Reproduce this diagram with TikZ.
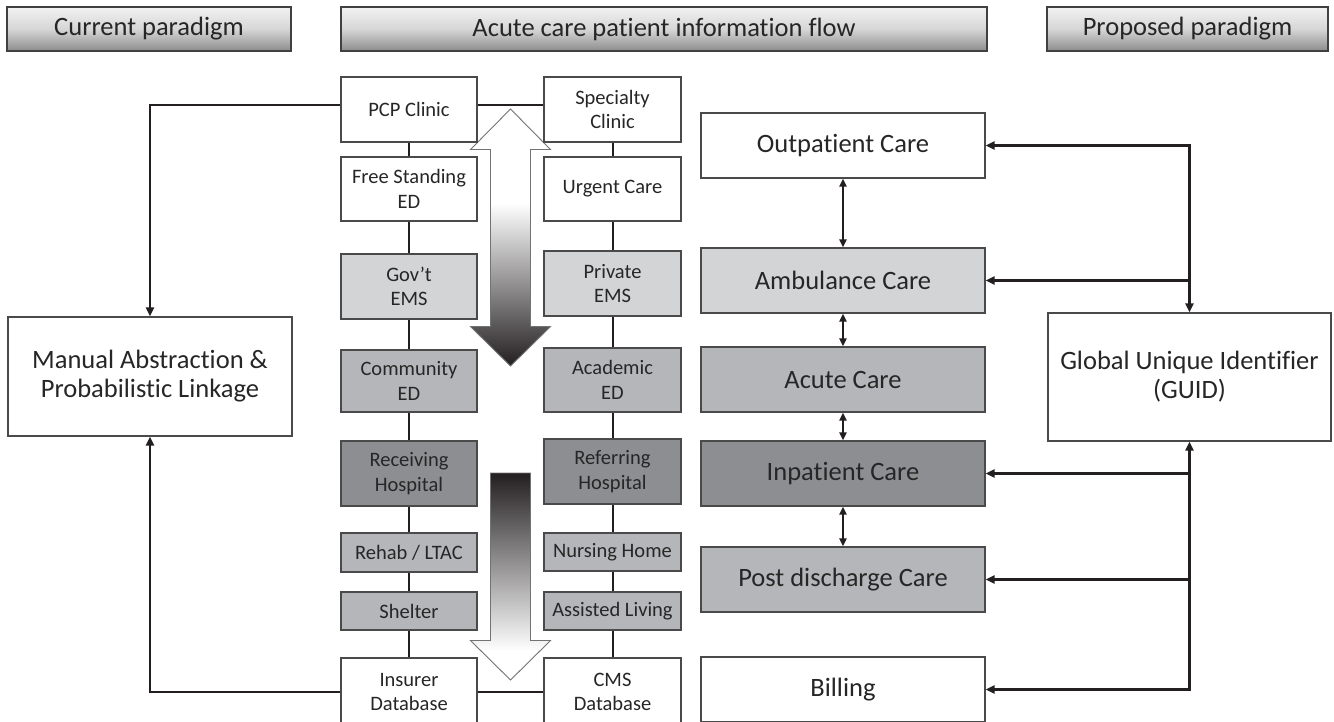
\documentclass[tikz,border=0pt]{standalone}
\usepackage{fontspec}
\setmainfont{Carlito}[Ligatures={NoCommon,NoContextual}]
\usetikzlibrary{arrows.meta}
\definecolor{bordc}{HTML}{4A4A4A}
\definecolor{txtc}{HTML}{262626}
\definecolor{linec}{HTML}{231F20}
\definecolor{lgray}{HTML}{D3D4D6}
\definecolor{mgray}{HTML}{B5B6B9}
\definecolor{dgray}{HTML}{8D8E91}
\definecolor{adark}{HTML}{231F20}
\definecolor{hA}{HTML}{F2F2F2}
\definecolor{hB}{HTML}{D6D6D6}
\definecolor{hC}{HTML}{8C8C8C}
\pgfdeclareverticalshading{hdrshade}{100bp}{color(0bp)=(hC); color(25bp)=(hC); color(50bp)=(hB); color(75bp)=(hA); color(100bp)=(hA)}
\pgfdeclareverticalshading{upfade}{100bp}{color(0bp)=(adark); color(25bp)=(adark); color(56.7bp)=(white); color(100bp)=(white)}
\pgfdeclareverticalshading{downfade}{100bp}{color(0bp)=(white); color(32bp)=(white); color(75bp)=(adark); color(100bp)=(adark)}
\begin{document}
\begin{tikzpicture}[x=1pt,y=-1pt,
  box/.style={rectangle,draw=bordc,line width=1.1pt,inner sep=0pt,align=center,text=txtc},
  hdrbox/.style={box,shading=hdrshade,draw=black!75,minimum height=44pt,font=\fontsize{26.5}{30}\selectfont},
  bigbox/.style={box,font=\fontsize{26.5}{29}\selectfont},
  rbox/.style={bigbox,minimum width=284pt,minimum height=65pt},
  lbox/.style={box,font=\fontsize{20.5}{24.5}\selectfont,minimum width=136pt},
  rcol/.style={box,font=\fontsize{20.5}{24.5}\selectfont,minimum width=137pt},
  fw/.style={fill=white},
  fl/.style={fill=lgray},
  fm/.style={fill=mgray},
  fd/.style={fill=dgray},
  midline/.style={draw=linec,line width=2pt},
  conn/.style={draw=linec,line width=2.3pt,-{Triangle[length=9pt,width=8pt]}},
  bconn/.style={draw=linec,line width=2.3pt,{Triangle[length=9pt,width=8pt]}-{Triangle[length=9pt,width=8pt]}},
  dbl/.style={draw=linec,line width=2pt,{Triangle[length=8pt,width=7pt]}-{Triangle[length=8pt,width=7pt]}},
  blockarrow/.style={draw=black!55,line width=0.9pt}
]
\useasboundingbox (0,0) rectangle (1334,721);
\fill[white] (0,0) rectangle (1334,721);

% headers
\node[hdrbox,minimum width=284pt] (hcur) at (149,29) {Current paradigm};
\node[hdrbox,minimum width=646pt] (hmid) at (664,29) {Acute care patient information flow};
\node[hdrbox,minimum width=281pt] (hprop) at (1187.5,29) {Proposed paradigm};

% block arrows
\path[blockarrow,shading=upfade] (510.5,109) -- (550.5,149.5) -- (530.5,149.5) -- (530.5,326.5) -- (550.5,326.5) -- (510.5,366) -- (470.5,326.5) -- (490.5,326.5) -- (490.5,149.5) -- (470.5,149.5) -- cycle;
\path[blockarrow,shading=downfade] (490.5,473) -- (530.5,473) -- (530.5,640.5) -- (550.5,640.5) -- (510.5,680) -- (470.5,640.5) -- (490.5,640.5) -- cycle;

% middle left column
\node[lbox,fw,minimum height=65pt] (pcp) at (409,109.5) {PCP Clinic};
\node[lbox,fw,minimum height=64pt] (frees) at (409,189) {Free Standing\\ED};
\node[lbox,fl,minimum height=65pt] (gov) at (409,286.5) {Gov’t\\EMS};
\node[lbox,fm,minimum height=62pt] (comm) at (409,381) {Community\\ED};
\node[lbox,fd,minimum height=65pt] (recv) at (409,473.5) {Receiving\\Hospital};
\node[lbox,fm,minimum height=39pt] (rehab) at (409,552.5) {Rehab / LTAC};
\node[lbox,fm,minimum height=38pt] (shel) at (409,611) {Shelter};
\node[lbox,fw,minimum height=68pt] (ins) at (409,692) {Insurer\\Database};

% middle right column
\node[rcol,fw,minimum height=65pt] (spec) at (612.5,109.5) {Specialty\\Clinic};
\node[rcol,fw,minimum height=64pt] (urg) at (612.5,189) {Urgent Care};
\node[rcol,fl,minimum height=65pt] (priv) at (612.5,283.5) {Private\\EMS};
\node[rcol,fm,minimum height=64pt] (acad) at (612.5,380) {Academic\\ED};
\node[rcol,fd,minimum height=65pt] (refr) at (612.5,471.5) {Referring\\Hospital};
\node[rcol,fm,minimum height=38pt] (nurs) at (612.5,552) {Nursing Home};
\node[rcol,fm,minimum height=38pt] (assist) at (612.5,611) {Assisted Living};
\node[rcol,fw,minimum height=68pt] (cms) at (612.5,692) {CMS\\Database};

% middle connectors
\draw[midline] (pcp) -- (frees) (frees) -- (gov) (gov) -- (comm) (comm) -- (recv) (recv) -- (rehab) (rehab) -- (shel) (shel) -- (ins);
\draw[midline] (spec) -- (urg) (urg) -- (priv) (priv) -- (acad) (acad) -- (refr) (refr) -- (nurs) (nurs) -- (assist) (assist) -- (cms);
\draw[midline] ([yshift=5pt]pcp.east) -- ([yshift=5pt]spec.west);
\draw[midline] (ins.east) -- (cms.west);

% left paradigm
\node[bigbox,fw,minimum width=284pt,minimum height=119pt] (manual) at (150,376.5) {Manual Abstraction \&\\Probabilistic Linkage};
\draw[conn] ([yshift=4.5pt]pcp.west) -| (manual.north);
\draw[conn] (ins.west) -| (manual.south);

% right paradigm
\node[rbox,fw] (outp) at (843,145.5) {Outpatient Care};
\node[rbox,fl] (amb) at (843,280.5) {Ambulance Care};
\node[rbox,fm] (acute) at (843,379.5) {Acute Care};
\node[rbox,fd] (inp) at (843,473.5) {Inpatient Care};
\node[rbox,fm] (post) at (843,579.5) {Post discharge Care};
\node[rbox,fw] (bill) at (843,689.5) {Billing};
\node[bigbox,fw,minimum width=283pt,minimum height=128pt] (guid) at (1189.5,377) {Global Unique Identifier\\(GUID)};

\draw[dbl] (outp) -- (amb);
\draw[dbl] (amb) -- (acute);
\draw[dbl] (acute) -- (inp);
\draw[dbl] (inp) -- (post);

\draw[bconn] (outp.east) -| (guid.north);
\draw[conn] (guid.north |- amb.east) -- (amb.east);
\draw[bconn] (bill.east) -| (guid.south);
\draw[conn] (guid.south |- inp.east) -- (inp.east);
\draw[conn] (guid.south |- post.east) -- (post.east);
\end{tikzpicture}
\end{document}
